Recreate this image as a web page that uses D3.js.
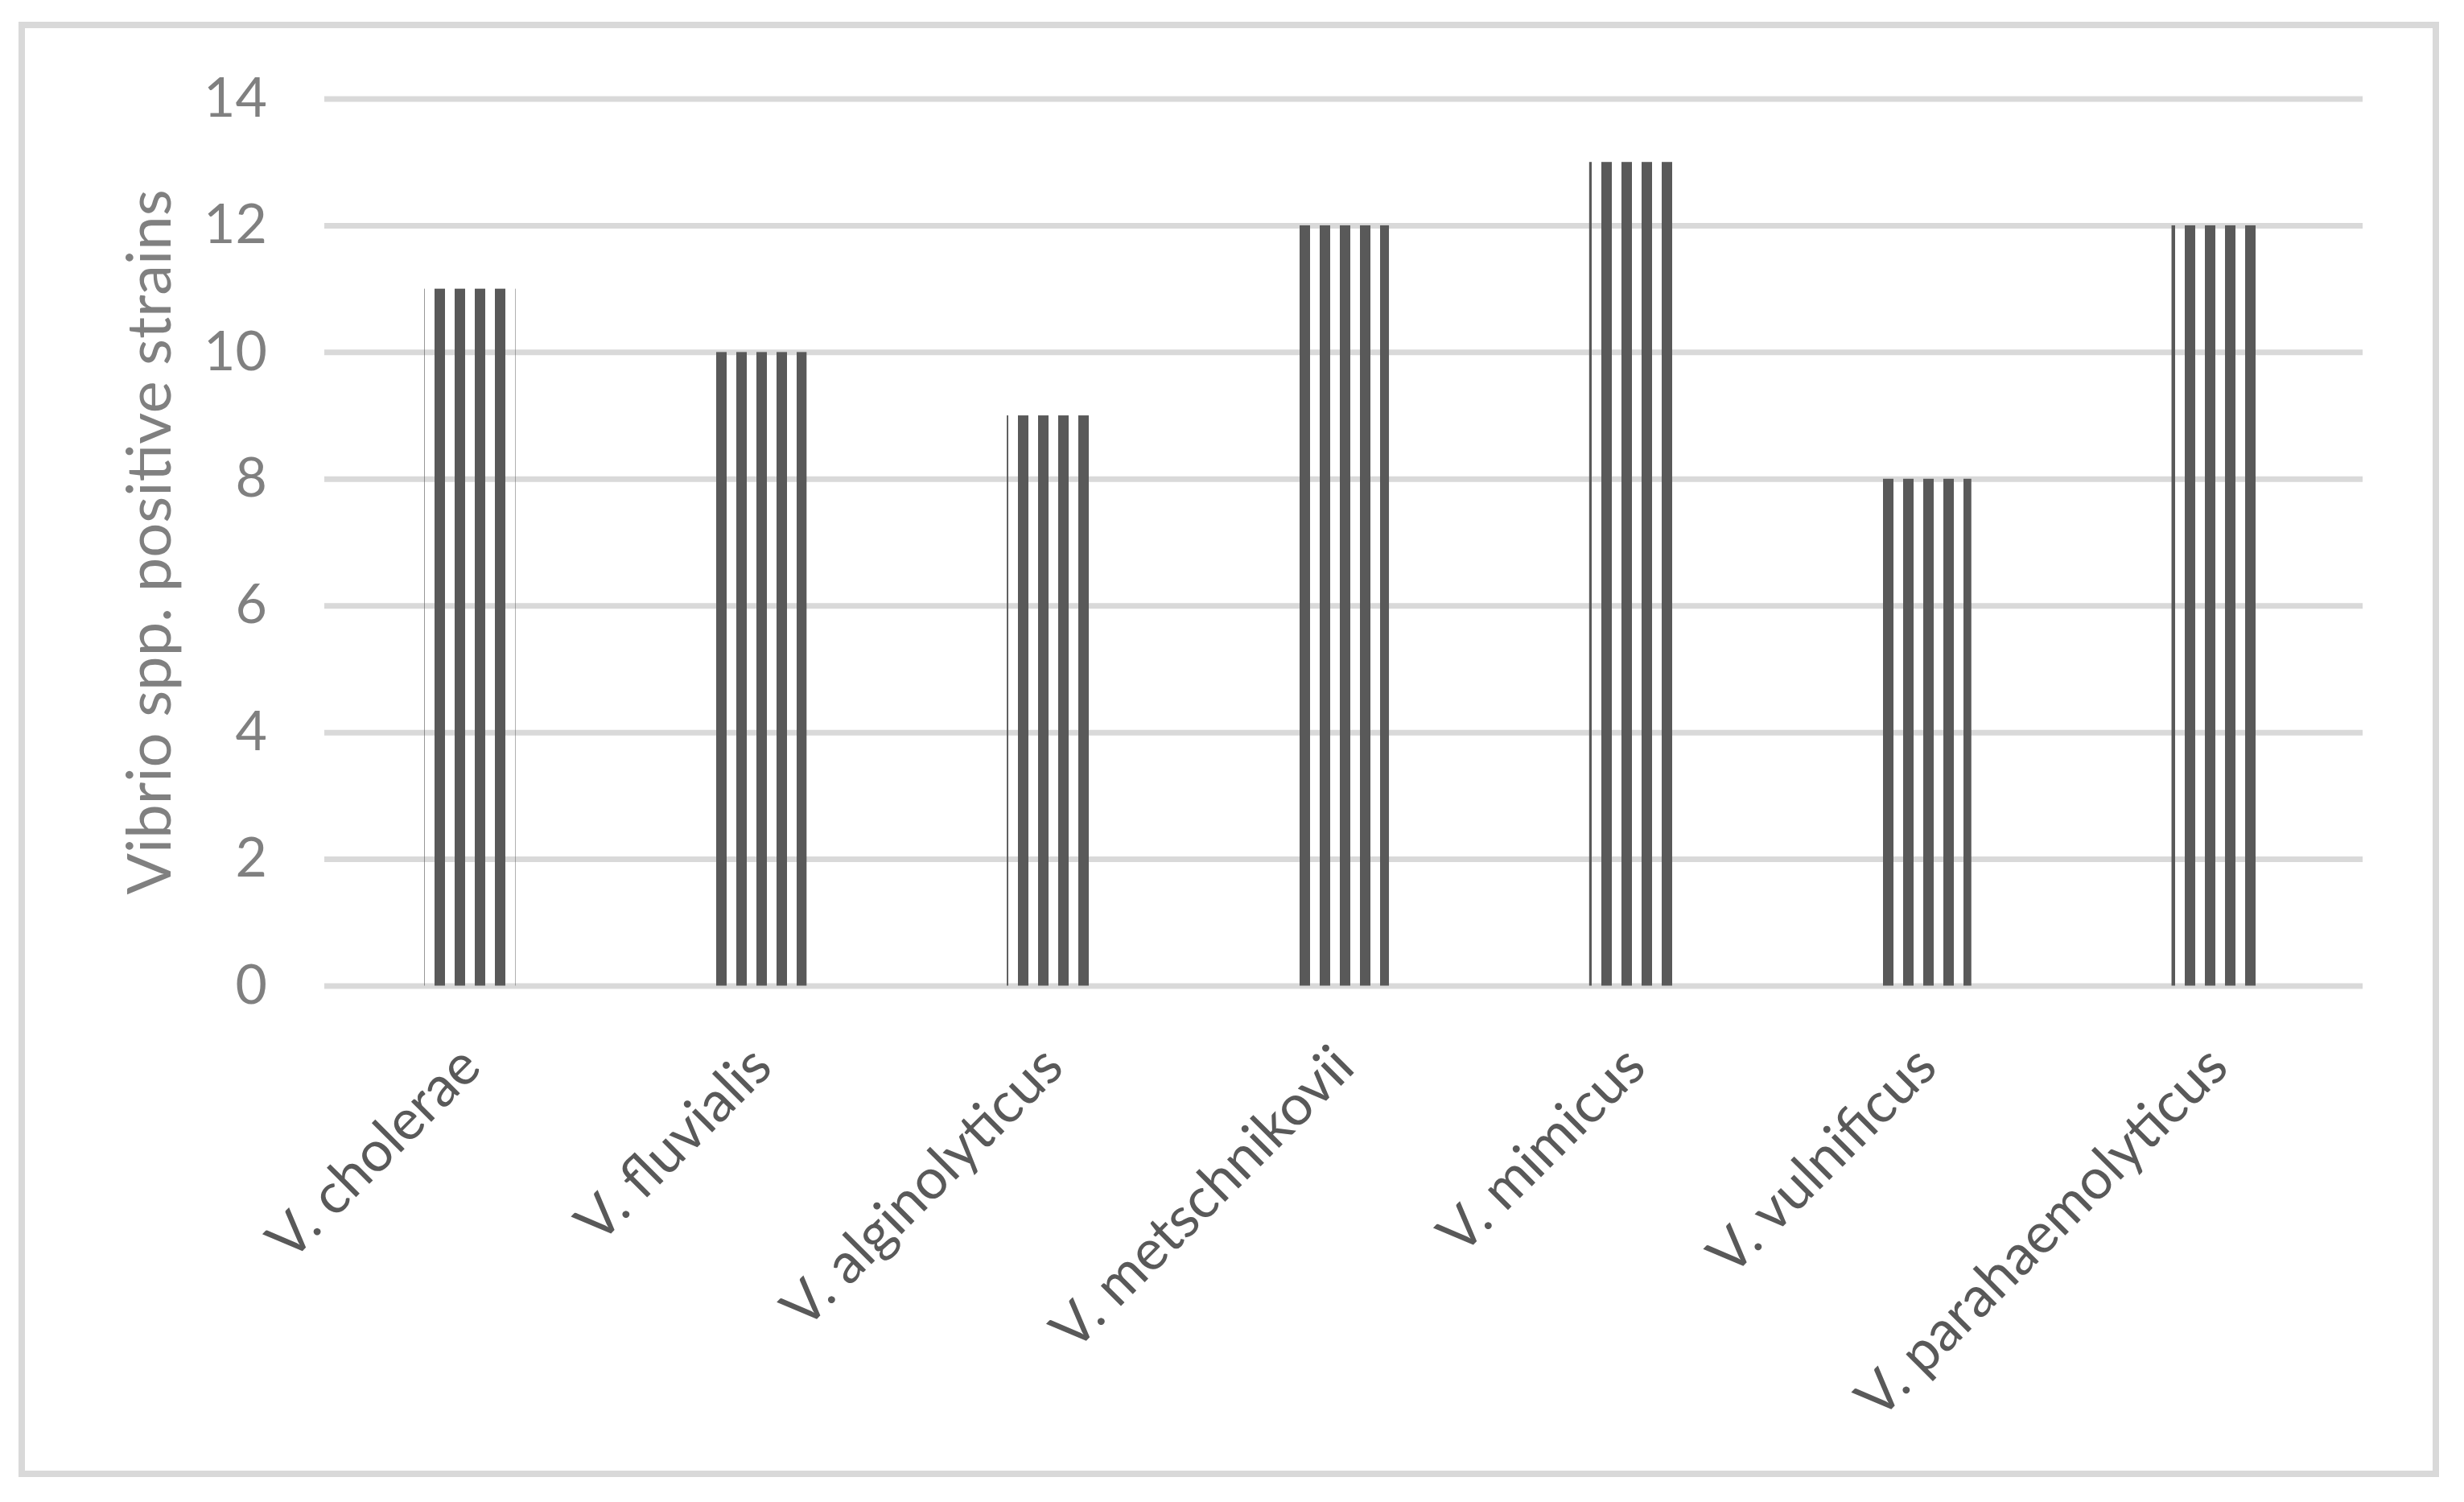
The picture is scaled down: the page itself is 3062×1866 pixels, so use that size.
<!DOCTYPE html>
<html>
<head>
<meta charset="utf-8">
<script src="https://cdn.jsdelivr.net/npm/d3@7"></script>
<style>
  html, body { margin: 0; padding: 0; background: #fff; }
  svg { display: block; }
</style>
</head>
<body>
<svg id="chart" width="3062" height="1866"></svg>
<script>
// data
var species = ["V. cholerae", "V. fluvialis", "V. alginolyticus", "V. metschnikovii",
               "V. mimicus", "V. vulnificus", "V. parahaemolyticus"];
var positives = [11, 10, 9, 12, 13, 8, 12];
var yTicks = [0, 2, 4, 6, 8, 10, 12, 14];
var yTitle = "Vibrio spp. positive strains";

function main() {
  var svg = d3.select("#chart");
  var font = "Lato, 'Open Sans', sans-serif";

  var left = 403, right = 2936, top = 122.5, bottom = 1224.5;

  // striped fill (wide vertical pattern, aligned on the page)
  var defs = svg.append("defs");
  var pat = defs.append("pattern")
      .attr("id", "vstripe")
      .attr("patternUnits", "userSpaceOnUse")
      .attr("x", 15).attr("y", 0)
      .attr("width", 25).attr("height", 25);
  pat.append("rect").attr("width", 13).attr("height", 25).attr("fill", "#595959");

  // outer frame
  svg.append("rect")
      .attr("x", 27).attr("y", 31)
      .attr("width", 3000).attr("height", 1800)
      .attr("fill", "none")
      .attr("stroke", "#d9d9d9")
      .attr("stroke-width", 8);

  var x = d3.scaleBand()
      .domain(species)
      .range([left, right])
      .paddingInner(0.6875)
      .paddingOuter(0.34375);

  var y = d3.scaleLinear()
      .domain([0, 14])
      .range([bottom, top]);

  // gridlines + y labels
  var yAxis = svg.append("g")
      .attr("transform", "translate(" + left + ",0)")
      .call(d3.axisLeft(y).tickValues(yTicks).tickSize(-(right - left)).tickPadding(71));
  yAxis.select(".domain").remove();
  yAxis.selectAll(".tick line").attr("stroke", "#d9d9d9").attr("stroke-width", 7);
  yAxis.selectAll(".tick text")
      .attr("fill", "#808080")
      .style("font-family", font)
      .style("font-size", "68px");

  // bars
  svg.append("g").selectAll("rect")
      .data(positives)
      .enter().append("rect")
      .attr("x", function(d, i) { return x(species[i]); })
      .attr("y", function(d) { return y(d); })
      .attr("width", x.bandwidth())
      .attr("height", function(d) { return bottom - y(d); })
      .attr("fill", "url(#vstripe)");

  // category labels, rotated
  svg.append("g").selectAll("text")
      .data(species)
      .enter().append("text")
      .attr("transform", function(d) {
        return "translate(" + (x(d) + x.bandwidth() / 2 + 17) + ",1329) rotate(-45)";
      })
      .attr("text-anchor", "end")
      .attr("fill", "#595959")
      .style("font-family", font)
      .style("font-size", "70px")
      .text(function(d) { return d; });

  // y title
  svg.append("text")
      .attr("transform", "translate(212," + ((top + bottom) / 2) + ") rotate(-90)")
      .attr("text-anchor", "middle")
      .attr("fill", "#808080")
      .style("font-family", font)
      .style("font-size", "76px")
      .text(yTitle);
}

main();
</script>
</body>
</html>
